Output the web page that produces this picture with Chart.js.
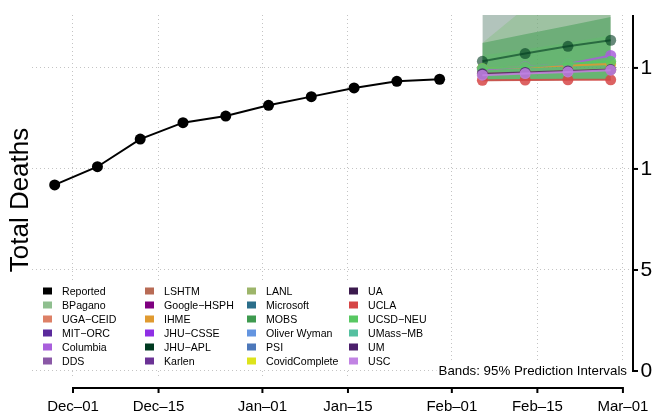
<!DOCTYPE html>
<html><head><meta charset="utf-8">
<script src="https://cdn.jsdelivr.net/npm/chart.js@4/dist/chart.umd.min.js"></script>
<style>html,body{margin:0;padding:0;background:#fff;overflow:hidden}#wrap{width:652px;height:417px;position:relative}</style>
</head><body><div id="wrap"><canvas id="c" width="652" height="417"></canvas></div>
<script>
// ---------------- data ----------------
const reportedDates = ['2020-11-28','2020-12-05','2020-12-12','2020-12-19','2020-12-26','2021-01-02','2021-01-09','2021-01-16','2021-01-23','2021-01-30'];
const reportedDeaths = [921, 1011, 1148, 1229, 1262, 1315, 1358, 1401, 1434, 1444];
const forecastDates = ['2021-02-06','2021-02-13','2021-02-20','2021-02-27'];

const xTickDates = ['2020-12-01','2020-12-15','2021-01-01','2021-01-15','2021-02-01','2021-02-15','2021-03-01'];
const xTickLabels = ['Dec\u201301','Dec\u201315','Jan\u201301','Jan\u201315','Feb\u201301','Feb\u201315','Mar\u201301'];
const yTickValues = [0, 500, 1000, 1500];
const yTickLabels = ['0', '500', '1000', '1500'];

const legendNames = ['Reported','BPagano','UGA\u2212CEID','MIT\u2212ORC','Columbia','DDS',
  'LSHTM','Google\u2212HSPH','IHME','JHU\u2212CSSE','JHU\u2212APL','Karlen',
  'LANL','Microsoft','MOBS','Oliver Wyman','PSI','CovidComplete',
  'UA','UCLA','UCSD\u2212NEU','UMass\u2212MB','UM','USC'];
const legendColors = ['#000000','#8fbf8f','#dd8066','#5b2a9c','#a95fdc','#8a58a6',
  '#b86b55','#7f0080','#e09a30','#8f2fe5','#003a20','#6b3295',
  '#9db56a','#2b6e8a','#3e9a4f','#6495e0','#4d78ba','#dde31c',
  '#3b1a4d','#d64646','#58c862','#55c0a0','#4b1f6b','#c183e3'];

// point forecasts (listed top-drawn first)
const lineModels = ['USC','UM','UCSD\u2212NEU','Columbia','UCLA','CovidComplete','IHME','JHU\u2212APL'];
const lineUSC = [1464, 1472, 1480, 1489];
const lineUM = [1471, 1478, 1485, 1492];
const lineUCSD = [1497, 1505, 1521, 1533];
const lineColumbia = [1492, 1506, 1520, 1562];
const lineUCLA = [1439, 1440, 1441, 1441];
const lineCovidComplete = [1470, 1476, 1484, 1492];
const lineIHME = [1496, 1503, 1512, 1520];
const lineJHUAPL = [1533, 1571, 1607, 1637];

// 95% prediction interval bands (listed top-drawn first)
const bandModels = ['UCSD\u2212NEU','MOBS','BPagano','JHU\u2212APL'];
const bandLowerUCSD = [1440, 1441, 1442, 1443];
const bandUpperUCSD = [1562, 1592, 1625, 1660];
const bandLowerMOBS = [1436, 1438, 1440, 1442];
const bandUpperMOBS = [1624, 1667, 1709, 1752];
const bandLowerBPagano = [1434, 1436, 1438, 1440];
const bandUpperBPagano = [1624, 1797, 1970, 2144];
const bandLowerJHUAPL = [1436, 1438, 1440, 1442];
const bandUpperJHUAPL = [1820, 2000, 2180, 2360];

// ---------------- helpers ----------------
const ORIGIN = Date.UTC(2020, 11, 1);
function dayNum(s){ const p = s.split('-').map(Number); return (Date.UTC(p[0], p[1]-1, p[2]) - ORIGIN) / 86400000; }
function pts(dates, vals){ return dates.map((d,i)=>({x: dayNum(d), y: vals[i]})); }
function colorOf(name){ return legendColors[legendNames.indexOf(name)]; }
function rgba(hex, a){ const n = parseInt(hex.slice(1),16); return `rgba(${(n>>16)&255},${(n>>8)&255},${n&255},${a})`; }

const FONT = "'Liberation Sans', Arial, Helvetica, sans-serif";
const datasets = [];
datasets.push({label:'Reported', data: pts(reportedDates, reportedDeaths), borderColor:'#000', backgroundColor:'#000',
  borderWidth:2, pointRadius:5.5, pointHoverRadius:5.5, pointBorderWidth:0, tension:0});
const lineVals = [lineUSC, lineUM, lineUCSD, lineColumbia, lineUCLA, lineCovidComplete, lineIHME, lineJHUAPL];
lineModels.forEach((m,i)=>{
  const c = colorOf(m);
  const a = m === 'JHU\u2212APL' ? 0.6 : 0.85;
  datasets.push({label:m, data: pts(forecastDates, lineVals[i]), borderColor: rgba(c,a), backgroundColor: rgba(c,a),
    borderWidth:2, pointRadius:5.5, pointHoverRadius:5.5, pointBorderWidth:0, tension:0});
});
const bandLower = [bandLowerUCSD, bandLowerMOBS, bandLowerBPagano, bandLowerJHUAPL];
const bandUpper = [bandUpperUCSD, bandUpperMOBS, bandUpperBPagano, bandUpperJHUAPL];
const bandAlpha = [0.3, 0.5, 0.6, 0.3];
bandModels.forEach((m,i)=>{
  const c = colorOf(m);
  datasets.push({label:m+' upper', data: pts(forecastDates, bandUpper[i]), borderWidth:0, borderColor:'rgba(0,0,0,0)',
    pointRadius:0, fill:'+1', backgroundColor: rgba(c, bandAlpha[i]), tension:0});
  datasets.push({label:m+' lower', data: pts(forecastDates, bandLower[i]), borderWidth:0, borderColor:'rgba(0,0,0,0)',
    pointRadius:0, fill:false, tension:0});
});

const GRID = '#c4c4c4';
const decor = {
  id:'decor',
  beforeDatasetsDraw(chart){
    const ctx = chart.ctx;
    ctx.save();
    ctx.fillStyle = '#fff';
    ctx.fillRect(34, 283, 406, 85);
    ctx.font = '10.6px ' + FONT;
    ctx.textBaseline = 'alphabetic';
    legendNames.forEach((n,i)=>{
      const col = Math.floor(i/6), row = i%6;
      const x = 43 + 102*col, y = 291 + 14*row;
      ctx.fillStyle = legendColors[i];
      ctx.fillRect(x, y-3.5, 9, 7);
      ctx.fillStyle = '#000';
      ctx.fillText(n, x+19, y+3.5);
    });
    ctx.font = '13.3px ' + FONT;
    const t = 'Bands: 95% Prediction Intervals';
    const w = ctx.measureText(t).width;
    ctx.fillStyle = '#fff';
    ctx.fillRect(627 - w - 2, 362, w + 4, 15);
    ctx.fillStyle = '#000';
    ctx.textAlign = 'right';
    ctx.fillText(t, 627, 374.5);
    ctx.restore();
  },
  afterDraw(chart){
    const ctx = chart.ctx, xs = chart.scales.x, ys = chart.scales.y, ca = chart.chartArea;
    ctx.save();
    ctx.strokeStyle = '#000'; ctx.lineWidth = 2;
    const x0 = xs.getPixelForValue(dayNum(xTickDates[0])), x1 = xs.getPixelForValue(dayNum(xTickDates[xTickDates.length-1]));
    const ya = 388;
    ctx.beginPath(); ctx.moveTo(x0, ya); ctx.lineTo(x1, ya); ctx.stroke();
    xTickDates.forEach(d=>{ const px = xs.getPixelForValue(dayNum(d)); ctx.beginPath(); ctx.moveTo(px, ya-1); ctx.lineTo(px, ya+5); ctx.stroke(); });
    const xr = ca.right;
    ctx.beginPath(); ctx.moveTo(xr, ys.getPixelForValue(0)+1); ctx.lineTo(xr, ca.top); ctx.stroke();
    yTickValues.forEach(v=>{ const py = ys.getPixelForValue(v); ctx.beginPath(); ctx.moveTo(xr-1, py); ctx.lineTo(xr+5, py); ctx.stroke(); });
    ctx.fillStyle = '#000';
    ctx.font = '26px ' + FONT;
    ctx.translate(28, 200); ctx.rotate(-Math.PI/2);
    ctx.textAlign = 'center'; ctx.textBaseline = 'alphabetic';
    ctx.fillText('Total Deaths', 0, 0);
    ctx.restore();
  }
};

new Chart(document.getElementById('c'), {
  type:'line',
  data:{datasets},
  options:{
    responsive:false, animation:false, devicePixelRatio:1,
    layout:{padding:{left:32, top:15, right:0, bottom:0}},
    plugins:{legend:{display:false}, tooltip:{enabled:false}, filler:{propagate:false}},
    elements:{line:{tension:0}},
    scales:{
      x:{type:'linear', position:'bottom', min:-6.71, max:91.65,
        afterBuildTicks(s){ s.ticks = xTickDates.map(d=>({value: dayNum(d)})); },
        afterFit(s){ s.height = 40; s.paddingLeft = 0; s.paddingRight = 0; },
        grid:{display:true, drawOnChartArea:true, drawTicks:false, color:GRID, lineWidth:1},
        border:{display:false, dash:[1,3]},
        ticks:{padding:21, color:'#000', font:{family:FONT, size:15}, maxRotation:0, autoSkip:false,
          callback(v){ const i = xTickDates.findIndex(d=>dayNum(d)===v); return i>=0 ? xTickLabels[i] : ''; }}
      },
      y:{type:'linear', position:'right', min:-29.7, max:1762,
        afterBuildTicks(s){ s.ticks = yTickValues.map(v=>({value:v})); },
        afterFit(s){ s.width = 19; s.paddingTop = 0; s.paddingBottom = 0; },
        grid:{display:true, drawOnChartArea:true, drawTicks:false, color:GRID, lineWidth:1},
        border:{display:false, dash:[1,3]},
        ticks:{padding:7.5, color:'#000', font:{family:FONT, size:21}, autoSkip:false,
          callback(v){ const i = yTickValues.indexOf(v); return i>=0 ? yTickLabels[i] : ''; }}
      }
    }
  },
  plugins:[decor]
});
</script></body></html>
